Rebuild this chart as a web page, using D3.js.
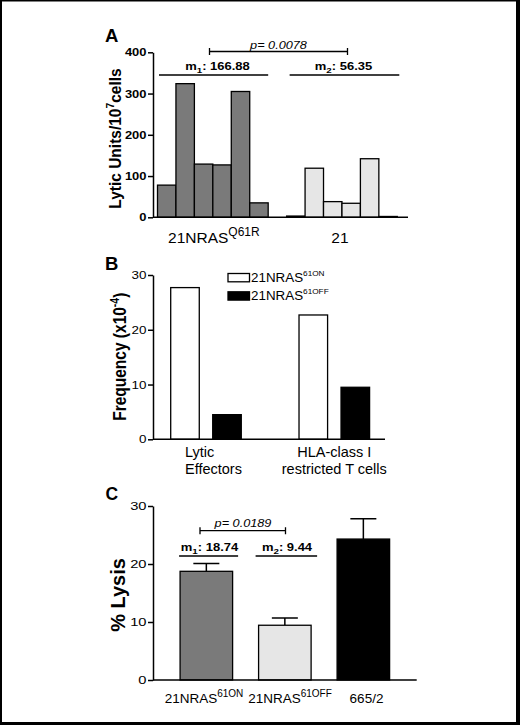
<!DOCTYPE html>
<html><head><meta charset="utf-8">
<script src="https://cdn.jsdelivr.net/npm/d3@7"></script>
<style>
body{margin:0;background:#fff}
svg{display:block}
text{font-family:"Liberation Sans",Arial,Helvetica,sans-serif;fill:#000}
</style>
</head><body>
<svg id="c" width="520" height="725"></svg>
<script>
// ---------- Panel A data ----------
const aLabelBase = ["21NRAS", "21"];
const aLabelSup = ["Q61R", ""];
const aValues1 = [78, 324, 129, 127, 305, 35];   // 21NRAS Q61R
const aValues2 = [3, 119, 38, 34, 142, 2];       // 21
const aTicks = [0, 100, 200, 300, 400];
const aMeans = ["166.88", "56.35"];
const aP = "0.0078";
// ---------- Panel B data ----------
const bCategories = [["Lytic", "Effectors"], ["HLA-class I", "restricted T cells"]];
const bSeries = ["61ON", "61OFF"];
const bOn = [27.7, 22.7];
const bOff = [4.5, 9.5];
const bTicks = [0, 10, 20, 30];
// ---------- Panel C data ----------
const cLabelBase = ["21NRAS", "21NRAS", "665/2"];
const cLabelSup = ["61ON", "61OFF", ""];
const cMeans = [18.74, 9.44, 24.3];
const cSem = [1.35, 1.25, 3.5];
const cTicks = [0, 10, 20, 30];
const cMeanLabels = ["18.74", "9.44"];
const cP = "0.0189";

const FONT = '"Liberation Sans",Arial,Helvetica,sans-serif';
const svg = d3.select("#c");

function addText(parent, x, y, parts, o) {
  const size = o.size || 12, sx = o.sx || 1;
  const t = parent.append("text")
    .attr("transform", `translate(${x},${y}) scale(${sx},1)` + (o.rotate ? " rotate(-90)" : ""))
    .attr("text-anchor", o.anchor || "start")
    .attr("font-size", size)
    .attr("font-weight", o.weight || "normal")
    .attr("font-style", o.style || "normal");
  let shift = 0;
  parts.forEach(p => {
    const q = typeof p === "string" ? {t: p, dy: 0} : p;
    if (!q.t) return;
    const s = t.append("tspan").text(q.t);
    const target = q.dy || 0;
    if (target - shift) s.attr("dy", target - shift);
    shift = target;
    if (q.size) s.attr("font-size", q.size);
  });
  return t;
}

function styleAxis(g, fs, weight, sx, pad) {
  g.attr("font-family", FONT).attr("font-size", fs);
  g.select(".domain").attr("stroke-width", 1.5);
  g.selectAll(".tick line").attr("stroke-width", 1.5);
  g.selectAll(".tick text").attr("font-weight", weight)
    .attr("transform", `scale(${sx},1)`).attr("x", -pad / sx);
}

// ---------- Frame ----------
svg.append("rect").attr("x", 0).attr("y", 0).attr("width", 2).attr("height", 725).attr("fill", "#000");
svg.append("rect").attr("x", 0).attr("y", 0).attr("width", 520).attr("height", 1.5).attr("fill", "#000");
svg.append("rect").attr("x", 516).attr("y", 0).attr("width", 4).attr("height", 725).attr("fill", "#000");
svg.append("rect").attr("x", 0).attr("y", 722).attr("width", 520).attr("height", 3).attr("fill", "#000");

// ================= Panel A =================
const gA = svg.append("g");
const yA = d3.scaleLinear().domain([0, 400]).range([217.3, 52.3]);
const xA = d3.scaleBand().domain(d3.range(13)).range([157.5, 397.3]).padding(0);
const aBars = aValues1.map((v, i) => ({slot: i, v, fill: "#7a7a7a"}))
  .concat(aValues2.map((v, i) => ({slot: i + 7, v, fill: "#e6e6e6"})));
gA.selectAll("rect.bar").data(aBars).join("rect").attr("class", "bar")
  .attr("x", d => xA(d.slot)).attr("width", xA.bandwidth())
  .attr("y", d => yA(d.v)).attr("height", d => yA(0) - yA(d.v))
  .attr("fill", d => d.fill).attr("stroke", "#000").attr("stroke-width", 1.3);

gA.append("g").attr("transform", "translate(153,0)")
  .call(d3.axisLeft(yA).tickValues(aTicks).tickSize(5).tickSizeOuter(0))
  .call(g => styleAxis(g, 10.8, "bold", 1.2, 6.5));
gA.append("line").attr("x1", 153).attr("x2", 408).attr("y1", yA(0)).attr("y2", yA(0))
  .attr("stroke", "#000").attr("stroke-width", 1.5);

addText(gA, 105, 42, ["A"], {size: 18.5, weight: "bold"});
addText(gA, 121, 138.5, ["Lytic Units/10", {t: "7", dy: -6, size: 10.5}, {t: "cells", dy: 0}],
  {size: 15.5, weight: "bold", anchor: "middle", rotate: true, sx: 1.12});

const gc1 = (xA(0) + xA(5) + xA.bandwidth()) / 2;
const gc2 = (xA(7) + xA(12) + xA.bandwidth()) / 2;
[0, 1].forEach(i => {
  const cx = i === 0 ? gc1 : gc2;
  addText(gA, cx + (i === 0 ? 1 : -2), 242.7, [aLabelBase[i], {t: aLabelSup[i], dy: -6.5, size: 12}],
    {size: 15.5, anchor: "middle"});
});

// mean lines A
const mlY = yA(345);
gA.append("line").attr("x1", xA(0) + 1.5).attr("x2", xA(5) + xA.bandwidth()).attr("y1", mlY).attr("y2", mlY)
  .attr("stroke", "#000").attr("stroke-width", 1.5);
gA.append("line").attr("x1", xA(7) + 3).attr("x2", xA(12) + xA.bandwidth() + 2).attr("y1", mlY).attr("y2", mlY)
  .attr("stroke", "#000").attr("stroke-width", 1.5);
addText(gA, 217.5, 70, ["m", {t: "1", dy: 3, size: 7.5}, {t: ": " + aMeans[0], dy: 0}],
  {size: 10, weight: "bold", anchor: "middle", sx: 1.3});
addText(gA, 343.5, 70, ["m", {t: "2", dy: 3, size: 7.5}, {t: ": " + aMeans[1], dy: 0}],
  {size: 10, weight: "bold", anchor: "middle", sx: 1.3});
// p bracket A
const pY = 51.5;
gA.append("path").attr("d", `M209.5,${pY - 3.5}V${pY + 3.5}M209.5,${pY}H347.5M347.5,${pY - 3.5}V${pY + 3.5}`)
  .attr("stroke", "#000").attr("stroke-width", 1.3).attr("fill", "none");
addText(gA, 278.5, 49, ["p= " + aP], {size: 10, style: "italic", anchor: "middle", sx: 1.27});

// ================= Panel B =================
const gB = svg.append("g");
const yB = d3.scaleLinear().domain([0, 30]).range([439.3, 275]);
const x0B = d3.scaleBand().domain([0, 1]).range([153, 387.3]).paddingInner(0.45).paddingOuter(0.138);
const x1B = d3.scaleBand().domain([0, 1]).range([0, x0B.bandwidth()]).paddingInner(0.32).paddingOuter(0);
const bBars = [];
[0, 1].forEach(c => {
  bBars.push({c, s: 0, v: bOn[c]});
  bBars.push({c, s: 1, v: bOff[c]});
});
gB.selectAll("rect.bar").data(bBars).join("rect").attr("class", "bar")
  .attr("x", d => x0B(d.c) + x1B(d.s)).attr("width", x1B.bandwidth())
  .attr("y", d => yB(d.v)).attr("height", d => yB(0) - yB(d.v))
  .attr("fill", d => d.s === 0 ? "#fff" : "#000").attr("stroke", "#000").attr("stroke-width", 1.3);

gB.append("g").attr("transform", "translate(153,0)")
  .call(d3.axisLeft(yB).tickValues(bTicks).tickSize(5).tickSizeOuter(0))
  .call(g => styleAxis(g, 11, "normal", 1.22, 6.5));
gB.append("line").attr("x1", 153).attr("x2", 385).attr("y1", yB(0)).attr("y2", yB(0))
  .attr("stroke", "#000").attr("stroke-width", 1.5);

addText(gB, 105, 270, ["B"], {size: 18.5, weight: "bold"});
addText(gB, 126, 356.7, ["Frequency (x10", {t: "-4", dy: -6, size: 10.5}, {t: ")", dy: 0}],
  {size: 15.5, weight: "bold", anchor: "middle", rotate: true, sx: 1.14});

// category labels B
addText(gB, 185, 457, [bCategories[0][0]], {size: 14.5});
addText(gB, 185, 474, [bCategories[0][1]], {size: 14.5});
const hc = x0B(1) + x0B.bandwidth() / 2;
addText(gB, hc, 457, [bCategories[1][0]], {size: 14.5, anchor: "middle"});
addText(gB, hc, 474, [bCategories[1][1]], {size: 14.5, anchor: "middle"});

// legend B
[0, 1].forEach(s => {
  const ly = 273.5 + s * 18.3;
  gB.append("rect").attr("x", 228).attr("y", ly).attr("width", 21.5).attr("height", 8.3)
    .attr("fill", s === 0 ? "#fff" : "#000").attr("stroke", "#000").attr("stroke-width", 1.3);
  addText(gB, 251, ly + 8.5, ["21NRAS", {t: bSeries[s], dy: -6, size: 8}], {size: 13, sx: 1.03});
});

// ================= Panel C =================
const gC = svg.append("g");
const yC = d3.scaleLinear().domain([0, 30]).range([680, 506]);
const xC = d3.scaleBand().domain([0, 1, 2]).range([153, 416.7]).paddingInner(0.331).paddingOuter(0.345);
const cFills = ["#7a7a7a", "#e6e6e6", "#000"];
const cData = cMeans.map((m, i) => ({i, m, e: cSem[i]}));
// error bars (drawn first so bars overlap the lower half)
gC.selectAll("path.err").data(cData).join("path").attr("class", "err")
  .attr("d", d => {
    const cx = xC(d.i) + xC.bandwidth() / 2, top = yC(d.m + d.e);
    return `M${cx},${yC(d.m)}V${top}M${cx - 13},${top}H${cx + 13}`;
  })
  .attr("stroke", "#000").attr("stroke-width", 1.5).attr("fill", "none");
gC.selectAll("rect.bar").data(cData).join("rect").attr("class", "bar")
  .attr("x", d => xC(d.i)).attr("width", xC.bandwidth())
  .attr("y", d => yC(d.m)).attr("height", d => yC(0) - yC(d.m))
  .attr("fill", d => cFills[d.i]).attr("stroke", "#000").attr("stroke-width", 1.3);

gC.append("g").attr("transform", "translate(153,0)")
  .call(d3.axisLeft(yC).tickValues(cTicks).tickSize(5).tickSizeOuter(0))
  .call(g => styleAxis(g, 11.5, "normal", 1.28, 6.5));
gC.append("line").attr("x1", 153).attr("x2", 416.7).attr("y1", yC(0)).attr("y2", yC(0))
  .attr("stroke", "#000").attr("stroke-width", 1.5);

addText(gC, 105.5, 500, ["C"], {size: 17.5, weight: "bold"});
addText(gC, 125, 595, ["% Lysis"], {size: 20, weight: "bold", anchor: "middle", rotate: true, sx: 1.05});

const cLabelX = [204, 290, 366.5];
cData.forEach(d => {
  addText(gC, cLabelX[d.i], 702.5, [cLabelBase[d.i], {t: cLabelSup[d.i], dy: -5.5, size: 10}],
    {size: 13.5, anchor: "middle"});
});

// mean lines C
const cmY = 556;
gC.append("line").attr("x1", xC(0) - 1).attr("x2", xC(0) + xC.bandwidth() + 5.5).attr("y1", cmY).attr("y2", cmY)
  .attr("stroke", "#000").attr("stroke-width", 1.5);
gC.append("line").attr("x1", xC(1) - 3).attr("x2", xC(1) + xC.bandwidth() + 6).attr("y1", cmY).attr("y2", cmY)
  .attr("stroke", "#000").attr("stroke-width", 1.5);
addText(gC, 209.5, 551, ["m", {t: "1", dy: 3, size: 7.5}, {t: ": " + cMeanLabels[0], dy: 0}],
  {size: 10, weight: "bold", anchor: "middle", sx: 1.3});
addText(gC, 287, 551, ["m", {t: "2", dy: 3, size: 7.5}, {t: ": " + cMeanLabels[1], dy: 0}],
  {size: 10, weight: "bold", anchor: "middle", sx: 1.3});
const cpY = 530.7;
gC.append("path").attr("d", `M200,${cpY - 3.5}V${cpY + 3.5}M200,${cpY}H285.5M285.5,${cpY - 3.5}V${cpY + 3.5}`)
  .attr("stroke", "#000").attr("stroke-width", 1.3).attr("fill", "none");
addText(gC, 243, 526.7, ["p= " + cP], {size: 10, style: "italic", anchor: "middle", sx: 1.27});
</script>
</body></html>
